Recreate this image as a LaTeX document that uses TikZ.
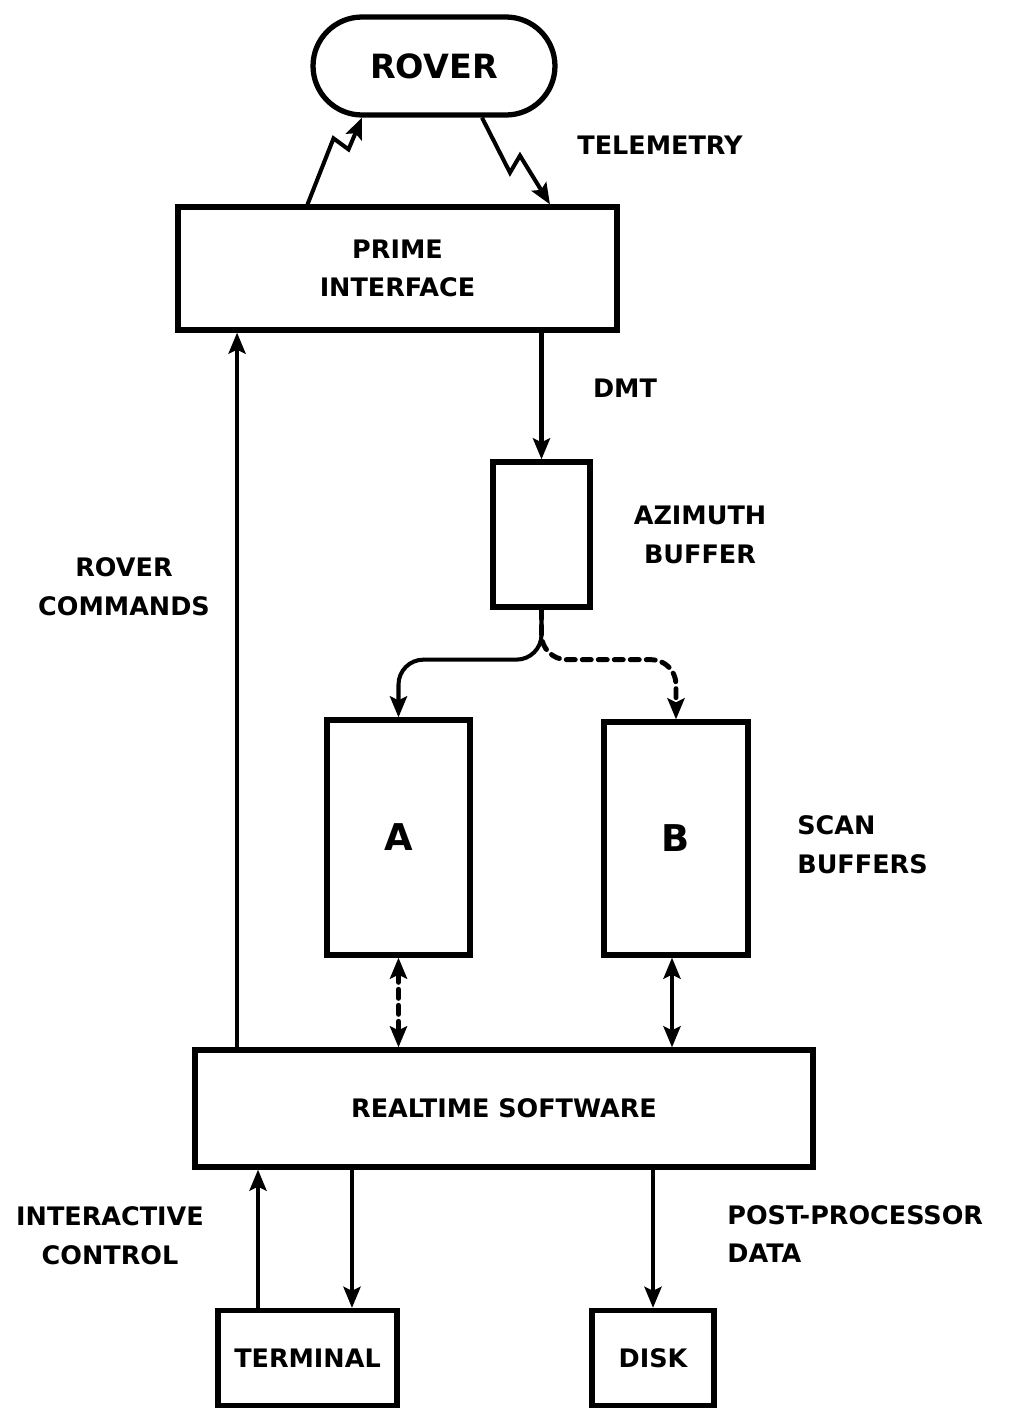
\documentclass[tikz,border=0pt]{standalone}
\usepackage{fontspec}
\setmainfont{DejaVu Sans}
\usetikzlibrary{positioning}
\usetikzlibrary{calc}
\usetikzlibrary{arrows.meta}
\tikzset{>={Stealth[length=0.42cm,width=0.34cm,inset=0.08cm]}}
\tikzset{blk/.style={draw, line width=3pt, inner sep=0pt, align=center,
    font=\fontsize{14.5}{22}\selectfont\bfseries}}
\tikzset{lbl/.style={inner sep=0pt, align=center,
    font=\fontsize{14.5}{22}\selectfont\bfseries}}
\tikzset{ln/.style={line width=2.3pt}}
\tikzset{dsh/.style={line width=2.8pt, line cap=round, dash pattern=on 0.18cm off 0.14cm}}

\begin{document}
\begin{tikzpicture}[x=0.02cm,y=0.02cm]
\useasboundingbox (0,0) rectangle (1011,-1410);

\node[blk, rounded corners=0.98cm, minimum width=4.84cm, minimum height=1.96cm,
  font=\fontsize{19}{22}\selectfont\bfseries] (rover) at (434,-66) {ROVER};
\node[blk, minimum width=8.78cm, minimum height=2.46cm] (prime) at (397.5,-268.5) {PRIME\\INTERFACE};
\node[blk, minimum width=1.94cm, minimum height=2.9cm] (azim) at (541.5,-534.5) {};
\node[blk, minimum width=2.86cm, minimum height=4.7cm,
  font=\fontsize{21}{22}\selectfont\bfseries] (A) at (398.5,-837.5) {A};
\node[blk, minimum width=2.88cm, minimum height=4.66cm,
  font=\fontsize{21}{22}\selectfont\bfseries] (B) at (676,-838.5) {B};
\node[blk, minimum width=12.36cm, minimum height=2.34cm] (rt) at (504,-1108.5) {REALTIME SOFTWARE};
\node[blk, minimum width=3.58cm, minimum height=1.9cm] (term) at (307.5,-1358) {TERMINAL};
\node[blk, minimum width=2.44cm, minimum height=1.9cm] (disk) at (653,-1358) {DISK};

% labels
\node[lbl] (telem) at (660,-145) {TELEMETRY};
\node[lbl] (dmt) at (625,-388) {DMT};
\node[lbl] (azlbl) at (700,-535) {AZIMUTH\\BUFFER};
\node[lbl] (cmdlbl) at (124,-587) {ROVER\\COMMANDS};
\node[lbl, anchor=west, align=left] (scanlbl) at (797,-845) {SCAN\\BUFFERS};
\node[lbl] (intlbl) at (110,-1236) {INTERACTIVE\\CONTROL};
\node[lbl, anchor=west, align=left] (postlbl) at (727,-1234) {POST-PROCESSOR\\DATA};

% radio links
\draw[ln,->] ([xshift=-1.8cm]prime.north) -- ++(26,66) -- ++(15,-11) -- ([xshift=-1.44cm]rover.south);
\draw[ln,->] ([xshift=0.96cm]rover.south) -- ++(28,-55) -- ++(10,17) -- ([xshift=3.05cm]prime.north);

\draw[ln,->] ([xshift=-5.34cm]rt.north) -- ([xshift=-5.34cm]rt.north |- prime.south);
\draw[ln,->] (azim.north |- prime.south) -- (azim.north);

\draw[dsh,->,rounded corners=0.5cm] (azim.south) -- ++(0,-50) -| (B.north);
\draw[ln,->,rounded corners=0.5cm] (azim.south) -- ++(0,-50) -| (A.north);

\draw[dsh,<->] (A.south) -- (A.south |- rt.north);
\draw[ln,<->] ([xshift=-0.08cm]B.south) -- ([xshift=-0.08cm]B.south |- rt.north);

\draw[ln,->] ([xshift=-0.99cm]term.north) -- ([xshift=-0.99cm]term.north |- rt.south);
\draw[ln,->] ([xshift=0.89cm]term.north |- rt.south) -- ([xshift=0.89cm]term.north);
\draw[ln,->] (disk.north |- rt.south) -- (disk.north);
\end{tikzpicture}
\end{document}
